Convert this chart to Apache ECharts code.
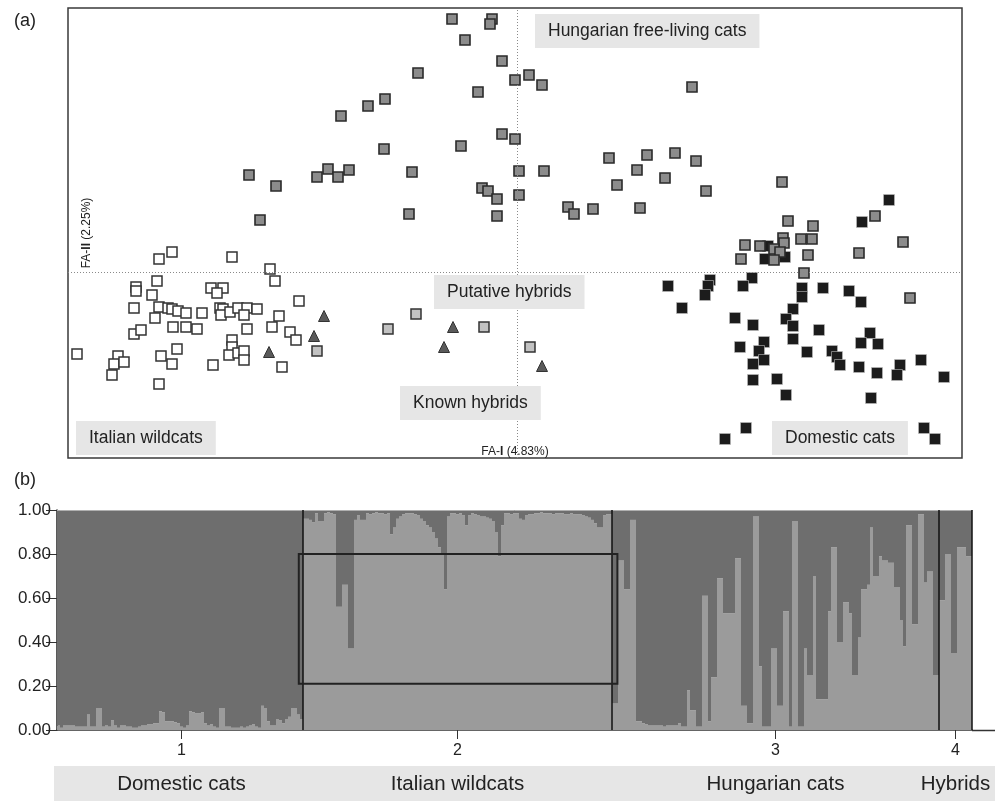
<!DOCTYPE html>
<html><head><meta charset="utf-8">
<script src="https://cdn.jsdelivr.net/npm/echarts@6/dist/echarts.min.js"></script>
<style>html,body{margin:0;padding:0;background:#fff}#c{width:995px;height:801px}</style>
</head><body><div id="c"></div>
<script>
// ---------- Panel (a): factorial analysis scores [FA-I, FA-II] ----------
const hungarianCats = [
[-0.65,2.53],[-0.25,2.53],[-0.27,2.48],[-0.52,2.32],[-0.15,2.11],[-0.99,1.99],[-0.02,1.92],[0.12,1.97],
[0.25,1.87],[-0.39,1.80],[-1.49,1.66],[-1.32,1.73],[-1.76,1.56],[-0.15,1.38],[-0.02,1.33],[-1.33,1.23],
[-0.56,1.26],[-2.00,0.95],[-1.89,1.03],[-1.79,0.95],[-1.68,1.02],[-2.68,0.97],[-2.41,0.86],[-2.57,0.52],
[-1.05,1.00],[0.02,1.01],[0.27,1.01],[-0.35,0.84],[-0.29,0.81],[-0.20,0.73],[0.02,0.77],[-1.08,0.58],
[-0.20,0.56],[0.92,1.14],[1.30,1.17],[1.20,1.02],[1.00,0.87],[1.48,0.94],[0.51,0.65],[0.57,0.58],
[0.76,0.63],[1.23,0.64],[1.58,1.19],[1.75,1.85],[1.79,1.11],[1.89,0.81],[2.65,0.90],[2.71,0.51],
[2.96,0.46],[3.58,0.56],[3.86,0.30],[2.28,0.27],[2.43,0.26],[2.66,0.34],[2.67,0.29],[2.84,0.33],
[2.95,0.33],[2.57,0.23],[2.24,0.13],[2.63,0.20],[2.91,0.17],[3.42,0.19],[2.57,0.12],[2.87,-0.01],
[3.93,-0.26]
];
const domesticCats = [
[3.72,0.72],[3.45,0.50],[2.51,0.26],[2.48,0.13],[2.68,0.15],[1.51,-0.14],[1.93,-0.08],[1.91,-0.14],
[1.88,-0.23],[2.35,-0.06],[2.26,-0.14],[2.85,-0.16],[2.85,-0.25],[3.06,-0.16],[3.32,-0.19],[3.44,-0.30],
[1.65,-0.36],[2.76,-0.37],[2.18,-0.46],[2.36,-0.53],[2.69,-0.47],[2.76,-0.54],[3.02,-0.58],[3.53,-0.61],
[2.47,-0.70],[2.23,-0.75],[2.76,-0.67],[3.44,-0.71],[3.61,-0.72],[2.42,-0.79],[2.90,-0.80],[3.15,-0.79],
[2.47,-0.88],[2.36,-0.92],[3.20,-0.85],[3.23,-0.93],[3.42,-0.95],[3.83,-0.93],[4.04,-0.88],[3.60,-1.01],
[3.80,-1.03],[2.36,-1.08],[2.60,-1.07],[4.27,-1.05],[2.69,-1.23],[3.54,-1.26],[2.29,-1.56],[2.08,-1.67],
[4.07,-1.56],[4.18,-1.67]
];
const italianWildcats = [
[-3.45,0.20],[-3.58,0.13],[-2.85,0.15],[-2.47,0.03],[-2.42,-0.09],[-3.81,-0.15],[-3.81,-0.19],[-3.60,-0.09],
[-3.65,-0.23],[-3.06,-0.16],[-2.94,-0.16],[-3.00,-0.21],[-3.83,-0.36],[-3.58,-0.35],[-3.49,-0.36],[-3.45,-0.37],
[-3.39,-0.39],[-3.31,-0.41],[-3.15,-0.41],[-2.97,-0.36],[-2.94,-0.37],[-2.96,-0.43],[-2.87,-0.40],[-2.79,-0.36],
[-2.70,-0.36],[-2.73,-0.43],[-2.60,-0.37],[-2.18,-0.29],[-2.38,-0.44],[-3.62,-0.46],[-3.83,-0.62],[-3.76,-0.58],
[-3.44,-0.55],[-3.31,-0.55],[-3.20,-0.57],[-2.70,-0.57],[-2.45,-0.55],[-2.27,-0.60],[-2.21,-0.68],[-2.85,-0.68],
[-2.85,-0.75],[-4.40,-0.82],[-3.40,-0.77],[-3.56,-0.84],[-2.88,-0.83],[-2.79,-0.81],[-2.73,-0.79],[-2.73,-0.88],
[-3.99,-0.84],[-4.03,-0.92],[-3.93,-0.90],[-4.05,-1.03],[-3.45,-0.92],[-3.04,-0.93],[-2.35,-0.95],[-3.58,-1.12]
];
const putativeHybrids = [[-2.00,-0.79],[-1.01,-0.42],[-1.29,-0.57],[-0.33,-0.55],[0.13,-0.75]];
const knownHybrids = [[-1.93,-0.44],[-2.03,-0.64],[-2.48,-0.80],[-0.64,-0.55],[-0.73,-0.75],[0.25,-0.94]];

// ---------- Panel (b): STRUCTURE membership (wildcat cluster proportion) ----------
const qDomestic = [0.02,0.01,0.02,0.02,0.02,0.02,0.015,0.015,0.015,0.015,0.07,0.015,0.015,0.10,0.10,0.015,0.02,0.015,
0.045,0.02,0.01,0.02,0.02,0.015,0.015,0.01,0.01,0.015,0.02,0.02,0.025,0.025,0.03,0.03,0.085,0.08,0.04,0.04,0.04,
0.035,0.03,0.015,0.01,0.02,0.085,0.08,0.075,0.075,0.08,0.03,0.02,0.025,0.015,0.01,0.10,0.10,0.015,0.015,0.01,0.01,
0.01,0.015,0.01,0.015,0.02,0.025,0.015,0.01,0.11,0.10,0.04,0.02,0.02,0.05,0.045,0.03,0.05,0.06,0.10,0.10,0.07,0.05];
const qItalian = [0.96,0.96,0.955,0.945,0.985,0.95,0.95,0.985,0.99,0.985,0.98,0.56,0.56,0.66,0.66,0.37,0.37,
0.955,0.975,0.955,0.955,0.985,0.98,0.985,0.99,0.985,0.985,0.98,0.985,0.89,0.92,0.96,0.97,0.98,0.985,0.985,0.985,
0.98,0.975,0.96,0.95,0.93,0.92,0.90,0.87,0.83,0.80,0.64,0.97,0.985,0.985,0.98,0.985,0.975,0.93,0.975,0.985,0.98,
0.975,0.97,0.97,0.965,0.96,0.95,0.90,0.79,0.93,0.985,0.985,0.98,0.985,0.985,0.96,0.955,0.975,0.98,0.98,0.985,0.985,
0.99,0.985,0.985,0.985,0.98,0.985,0.985,0.985,0.98,0.98,0.985,0.98,0.98,0.98,0.975,0.97,0.965,0.955,0.94,0.92,0.92,
0.975,0.98,0.98];
const qHungarian = [0.12,0.12,0.77,0.77,0.64,0.64,0.955,0.955,0.04,0.04,0.03,0.025,0.02,0.02,0.02,0.02,0.02,0.015,
0.02,0.02,0.02,0.02,0.03,0.015,0.015,0.18,0.09,0.09,0.015,0.015,0.61,0.61,0.04,0.24,0.24,0.69,0.69,0.53,0.53,0.53,
0.53,0.78,0.78,0.11,0.11,0.03,0.03,0.97,0.97,0.29,0.015,0.015,0.015,0.37,0.37,0.11,0.11,0.54,0.54,0.015,0.95,0.95,
0.015,0.015,0.37,0.25,0.25,0.70,0.14,0.14,0.14,0.14,0.54,0.83,0.83,0.40,0.40,0.58,0.58,0.53,0.25,0.25,0.42,0.64,
0.64,0.66,0.92,0.70,0.70,0.79,0.77,0.77,0.76,0.76,0.65,0.65,0.50,0.38,0.93,0.93,0.48,0.48,0.98,0.98,0.67,0.72,0.72,
0.25,0.25];
const qHybrids = [0.59,0.59,0.80,0.80,0.35,0.35,0.83,0.83,0.83,0.79,0.79];

const groupNames = ['Domestic cats', 'Italian wildcats', 'Hungarian cats', 'Hybrids'];
const groupTickLabels = ['1', '2', '3', '4'];
const boxedQRange = [0.21, 0.80];

// ---------- build ----------
const FONT = '"Liberation Sans", Arial, Helvetica, sans-serif';
const groups = [qDomestic, qItalian, qHungarian, qHybrids];
const qAll = groups.flat();
const cats = qAll.map((_, i) => String(i));
const starts = []; let acc = 0;
groups.forEach(g => { starts.push(acc); acc += g.length; });
const ends = starts.map((s, i) => s + groups[i].length);
const centers = starts.map((s, i) => s + Math.floor(groups[i].length / 2));
const N = qAll.length;

function labelBox(text, left, top) {
  return {
    text, left, top, backgroundColor: '#e6e6e6', padding: [7, 13],
    textStyle: { fontFamily: FONT, fontSize: 17.5, fontWeight: 'normal', color: '#222', lineHeight: 20 }
  };
}
const axisNameStyle = { fontFamily: FONT, fontSize: 12, color: '#222',
  rich: { b: { fontFamily: FONT, fontSize: 12, fontWeight: 'bold', color: '#222' } } };

const chart = echarts.init(document.getElementById('c'), null, { renderer: 'canvas' });
chart.setOption({
  animation: false,
  backgroundColor: '#fff',
  textStyle: { fontFamily: FONT },
  title: [
    { text: '(a)', left: 9, top: 7, textStyle: { fontFamily: FONT, fontSize: 18, fontWeight: 'normal', color: '#222' } },
    { text: '(b)', left: 9, top: 466, textStyle: { fontFamily: FONT, fontSize: 18, fontWeight: 'normal', color: '#222' } },
    labelBox('Hungarian free-living cats', 535, 14),
    labelBox('Putative hybrids', 434, 275),
    labelBox('Known hybrids', 400, 386),
    labelBox('Italian wildcats', 76, 421),
    labelBox('Domestic cats', 772, 421)
  ],
  graphic: [
    { type: 'rect', z: -1, shape: { x: 54, y: 766, width: 941, height: 35 }, style: { fill: '#e6e6e6' } },
    { type: 'line', shape: { x1: 972, y1: 730.5, x2: 995, y2: 730.5 }, style: { stroke: '#333', lineWidth: 1.5 } }
  ],
  grid: [
    { left: 68, top: 8, width: 894, height: 450, show: true, borderColor: '#3a3a3a', borderWidth: 1.5, backgroundColor: 'transparent' },
    { left: 57, top: 510, width: 915, height: 220 }
  ],
  xAxis: [
    { gridIndex: 0, type: 'value', min: -4.49, max: 4.45,
      axisLine: { show: false }, axisTick: { show: false }, axisLabel: { show: false }, splitLine: { show: false },
      name: 'FA-{b|I} (4.83%)', nameLocation: 'middle', nameGap: -12, nameTextStyle: axisNameStyle },
    { gridIndex: 1, type: 'category', data: cats, position: 'bottom',
      axisLine: { show: true, lineStyle: { color: '#333', width: 1.5 } },
      axisTick: { show: true, alignWithLabel: true, interval: (i) => centers.includes(i), length: 9, lineStyle: { color: '#333' } },
      axisLabel: { interval: (i) => centers.includes(i), formatter: (v, i) => groupTickLabels[centers.indexOf(i)] ?? '',
        fontFamily: FONT, fontSize: 16, color: '#222', margin: 13 } },
    { gridIndex: 1, type: 'value', min: 0, max: N, show: false },
    { gridIndex: 1, type: 'category', data: cats, position: 'bottom', offset: 36,
      axisLine: { show: false }, axisTick: { show: false },
      axisLabel: { interval: (i) => centers.includes(i), formatter: (v, i) => groupNames[centers.indexOf(i)] ?? '',
        fontFamily: FONT, fontSize: 20.5, color: '#222', margin: 8 } }
  ],
  yAxis: [
    { gridIndex: 0, type: 'value', min: -1.86, max: 2.64,
      axisLine: { show: false }, axisTick: { show: false }, axisLabel: { show: false }, splitLine: { show: false },
      name: 'FA-{b|II} (2.25%)', nameLocation: 'middle', nameGap: -25, nameTextStyle: axisNameStyle },
    { gridIndex: 1, type: 'value', min: 0, max: 1, interval: 0.2,
      axisLine: { show: true, lineStyle: { color: '#222', width: 1.5 } },
      axisTick: { show: true, length: 11, lineStyle: { color: '#333' } },
      axisLabel: { formatter: (v) => v.toFixed(2), fontFamily: FONT, fontSize: 17, color: '#222', margin: 6 },
      splitLine: { show: false } }
  ],
  series: [
    { name: 'Italian wildcats', type: 'scatter', xAxisIndex: 0, yAxisIndex: 0, data: italianWildcats,
      symbol: 'rect', symbolSize: 10, itemStyle: { color: '#ffffff', borderColor: '#333', borderWidth: 1.5, opacity: 1 },
      markLine: { silent: true, symbol: 'none', label: { show: false },
        lineStyle: { color: '#8a8a8a', type: [1, 2], width: 1 },
        data: [{ xAxis: 0 }, { yAxis: 0 }] } },
    { name: 'Domestic cats', type: 'scatter', xAxisIndex: 0, yAxisIndex: 0, data: domesticCats,
      symbol: 'rect', symbolSize: 11, itemStyle: { color: '#1c1c1c', borderColor: '#bdbdbd', borderWidth: 0.6, opacity: 1 } },
    { name: 'Hungarian free-living cats', type: 'scatter', xAxisIndex: 0, yAxisIndex: 0, data: hungarianCats,
      symbol: 'rect', symbolSize: 10, itemStyle: { color: '#8c8c8c', borderColor: '#2a2a2a', borderWidth: 1.6, opacity: 1 } },
    { name: 'Putative hybrids', type: 'scatter', xAxisIndex: 0, yAxisIndex: 0, data: putativeHybrids,
      symbol: 'rect', symbolSize: 10, itemStyle: { color: '#c2c2c2', borderColor: '#333', borderWidth: 1.5, opacity: 1 } },
    { name: 'Known hybrids', type: 'scatter', xAxisIndex: 0, yAxisIndex: 0, data: knownHybrids,
      symbol: 'triangle', symbolSize: 11, itemStyle: { color: '#5a5a5a', borderColor: '#333', borderWidth: 1, opacity: 1 } },

    { name: 'wild cluster', type: 'bar', xAxisIndex: 1, yAxisIndex: 1, stack: 'q', data: qAll,
      barCategoryGap: '0%', silent: true, itemStyle: { color: '#9b9b9b' } },
    { name: 'domestic cluster', type: 'bar', xAxisIndex: 1, yAxisIndex: 1, stack: 'q',
      data: qAll.map(v => +(1 - v).toFixed(3)),
      barCategoryGap: '0%', silent: true, itemStyle: { color: '#6e6e6e' } },
    { name: 'annotations', type: 'line', xAxisIndex: 2, yAxisIndex: 1, data: [[0, 0]], symbol: 'none', z: 10,
      lineStyle: { opacity: 0 }, silent: true,
      markLine: { silent: true, symbol: 'none', label: { show: false },
        data: [
          { yAxis: 1, lineStyle: { color: '#b0b0b0', width: 1, type: 'solid' } },
          ...ends.map(e => ({ xAxis: e, lineStyle: { color: '#111', width: 1.5, type: 'solid' } }))
        ] },
      markArea: { silent: true, z: 10, label: { show: false },
        itemStyle: { color: 'rgba(0,0,0,0)', borderColor: '#222', borderWidth: 2, borderType: 'solid', opacity: 1 },
        data: [[{ xAxis: starts[1] - 1.4, yAxis: boxedQRange[1] }, { xAxis: ends[1] + 1.8, yAxis: boxedQRange[0] }]] } }
  ]
});
</script>
</body></html>
